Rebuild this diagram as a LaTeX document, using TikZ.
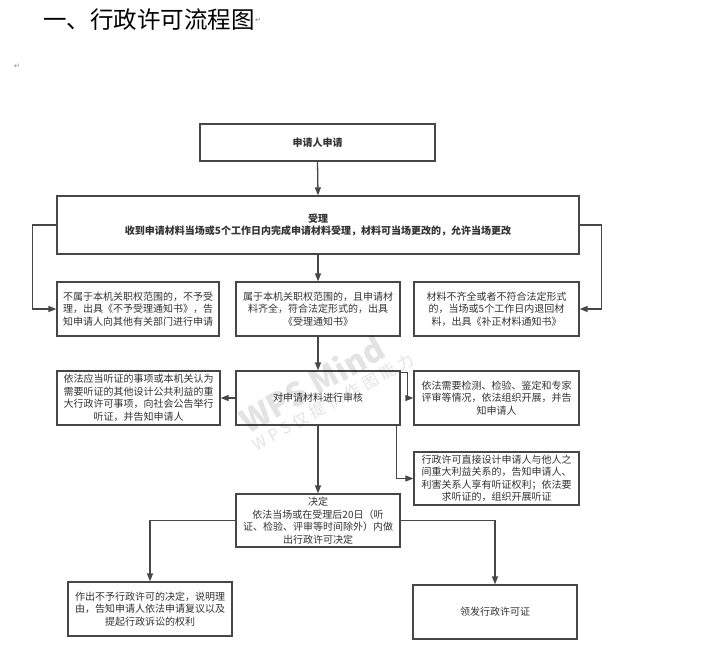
\documentclass[tikz,border=0pt]{standalone}
\usepackage{fontspec}
\setmainfont{Noto Sans CJK SC}
\newfontfamily\dejavu{DejaVu Sans}
\newfontfamily\wmfont{Noto Sans CJK SC}[LetterSpace=25]
\usetikzlibrary{arrows.meta,calc}
\definecolor{ln}{HTML}{474747}
\definecolor{tx}{HTML}{333333}
\begin{document}
\begin{tikzpicture}[x=1pt,y=-1pt,
  box/.style={draw=ln, line width=1.3pt, fill=white, inner sep=0pt, align=center, text=tx,
              font=\fontsize{10}{12.5}\selectfont},
  arr/.style={draw=ln, line width=1.3pt, -{Triangle[length=8pt,width=6pt]}},
  pmark/.style={text=gray, font=\dejavu\fontsize{7}{7}\selectfont, inner sep=0pt},
  wm/.style={rotate=29, text=black, opacity=0.11, inner sep=0pt}
]
\useasboundingbox (0,0) rectangle (711,666);
\fill[white] (0,0) rectangle (711,666);

% title
\node[anchor=west, inner sep=0pt, text=black, font=\fontsize{23.5}{23.5}\selectfont] (title) at (43,20) {一、行政许可流程图};
\node[pmark, anchor=west] (pm1) at (title.east) {↵};
\node[pmark] (pm2) at (17,66) {↵};

% boxes
\node[box, minimum width=235pt, minimum height=37pt, font=\bfseries\fontsize{10}{12.5}\selectfont] (a) at (317.5,142.5) {申请人申请};
\node[box, minimum width=522pt, minimum height=58pt, font=\bfseries\fontsize{10}{12.5}\selectfont] (b) at (318,225)
  {受理\\收到申请材料当场或5个工作日内完成申请材料受理，材料可当场更改的，允许当场更改};

\node[box, minimum width=162pt, minimum height=54pt] (c1) at (138,309)
  {不属于本机关职权范围的，不予受\\理，出具《不予受理通知书》，告\\知申请人向其他有关部门进行申请};
\node[box, minimum width=164pt, minimum height=54pt] (c2) at (318,309)
  {属于本机关职权范围的，且申请材\\料齐全，符合法定形式的，出具\\《受理通知书》};
\node[box, minimum width=165pt, minimum height=54pt] (c3) at (496.5,309)
  {材料不齐全或者不符合法定形式\\的，当场或5个工作日内退回材\\料，出具《补正材料通知书》};

\node[box, minimum width=164pt, minimum height=54pt] (d2) at (318,398) {对申请材料进行审核};
\node[box, minimum width=163pt, minimum height=54pt] (d1) at (138.5,398)
  {依法应当听证的事项或本机关认为\\需要听证的其他设计公共利益的重\\大行政许可事项，向社会公告举行\\听证，并告知申请人};
\node[box, minimum width=165pt, minimum height=54pt] (d3) at (496.5,398)
  {依法需要检测、检验、鉴定和专家\\评审等情况，依法组织开展，并告\\知申请人};

\node[box, minimum width=165pt, minimum height=53pt] (e3) at (496.5,478.5)
  {行政许可直接设计申请人与他人之\\间重大利益关系的，告知申请人、\\利害关系人享有听证权利；依法要\\求听证的，组织开展听证};

\node[box, minimum width=164pt, minimum height=53pt] (f) at (318,520.5)
  {决定\\依法当场或在受理后20日（听\\证、检验、评审等时间除外）内做\\出行政许可决定};

\node[box, minimum width=164pt, minimum height=54pt] (g1) at (150,609)
  {作出不予行政许可的决定，说明理\\由，告知申请人依法申请复议以及\\提起行政诉讼的权利};
\node[box, minimum width=164pt, minimum height=54pt] (g2) at (495,612) {领发行政许可证};

% connectors
\draw[arr] (a.south) -- (b.north);
\draw[arr] (b.west) -- ++(-24,0) |- (c1.west);
\draw[arr] (b.east) -- ++(22,0) |- (c3.east);
\draw[arr] (b.south) -- (c2.north);
\draw[arr] (c2.south) -- (d2.north);
\draw[arr] (d2.west) -- (d1.east);
\draw[arr] ($(d2.north east)+(0,2)$) -- ++(7,0) |- (d3.west);
\draw[arr] ($(d2.south east)+(-4,0)$) |- (e3.west);
\draw[arr] (d2.south) -- (f.north);
\draw[arr] (f.west) -| (g1.north);
\draw[arr] (f.east) -| (g2.north);

% watermark
\node[wm, font=\bfseries\fontsize{32}{32}\selectfont] (wm1) at (312,384) {WPS Mind};
\node[wm, font=\wmfont\fontsize{16}{16}\selectfont] (wm2) at (333,402) {WPS仅提供作图能力};
\end{tikzpicture}
\end{document}
